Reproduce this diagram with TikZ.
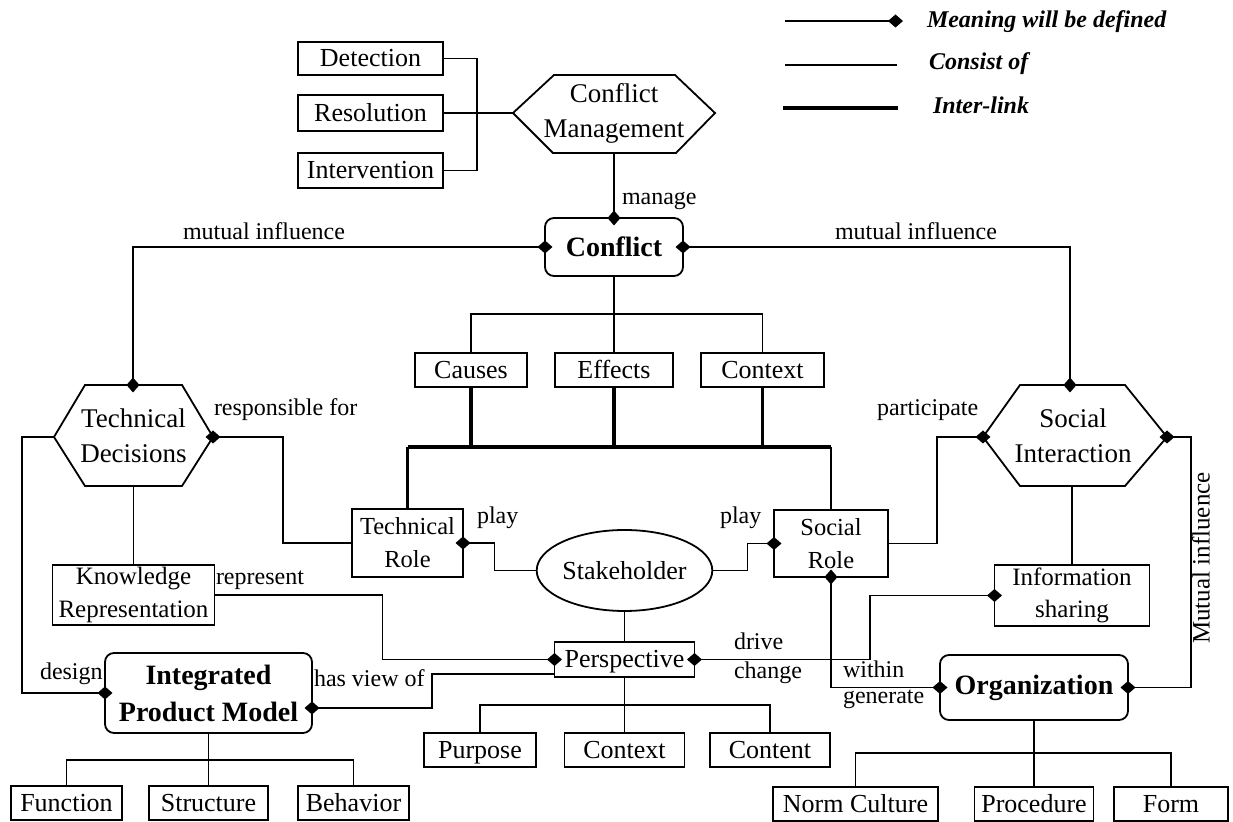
\documentclass[tikz,border=0pt]{standalone}
\usepackage{fontspec}
\setmainfont{Liberation Serif}
\usetikzlibrary{arrows.meta,shapes.geometric}

\tikzset{
  every node/.style={inner sep=0pt, outer sep=0pt},
  box/.style={draw, line width=0.9pt, rectangle, align=center,
              font=\fontsize{13}{16.5}\selectfont},
  one/.style={box, text height=8.4pt, text depth=0pt},
  sbox/.style={box, font=\fontsize{12.25}{16.5}\selectfont},
  rbox/.style={draw, line width=0.9pt, rounded corners=4.5pt, align=center,
               font=\bfseries\fontsize{14}{18.5}\selectfont},
  hexline/.style={draw, line width=0.9pt, line join=miter},
  hextext/.style={align=center, font=\fontsize{13.5}{17.5}\selectfont},
  lbl/.style={anchor=base west, font=\fontsize{12}{14}\selectfont},
  legtext/.style={anchor=base west, font=\bfseries\itshape\fontsize{12}{14}\selectfont},
  link/.style={line width=0.8pt},
  mid/.style={line width=1.1pt},
  inter/.style={line width=1.9pt},
  dend/.style={-{Diamond[length=7.5pt,width=6.5pt]}, shorten >=-3.75pt},
  dstart/.style={{Diamond[length=7.5pt,width=6.5pt]}-, shorten <=-3.75pt},
  dboth/.style={{Diamond[length=7.5pt,width=6.5pt]}-{Diamond[length=7.5pt,width=6.5pt]},
                shorten <=-3.75pt, shorten >=-3.75pt},
}

\begin{document}
\begin{tikzpicture}[x=0.5pt, y=-0.5pt]
  \fill[white] (0,0) rectangle (1233,822);

  % ---------- legend ----------
  \coordinate (lg1a) at (785,21);  \coordinate (lg1b) at (903,21);
  \coordinate (lg2a) at (785,65);  \coordinate (lg2b) at (897,65);
  \coordinate (lg3a) at (783,108); \coordinate (lg3b) at (898,108);
  \draw[link, -{Diamond[length=7.5pt,width=6.5pt]}] (lg1a) -- (lg1b);
  \draw[link] (lg2a) -- (lg2b);
  \draw[inter] (lg3a) -- (lg3b);
  \node[legtext] (lgt1) at (927,28) {Meaning will be defined};
  \node[legtext] (lgt2) at (929,70) {Consist of};
  \node[legtext] (lgt3) at (933,114) {Inter-link};

  % ---------- conflict management ----------
  \node[hextext] (cm) at (614,113) {Conflict\\Management};
  \coordinate (cm-l) at (513,113);
  \coordinate (cm-r) at (715,113);
  \coordinate (cm-b) at (614,153);
  \draw[hexline] (cm-l) -- (554,75) -- (675,75) -- (cm-r) -- (676,153) -- (553,153) -- cycle;

  \node[one, minimum width=72.5pt, minimum height=16.5pt] (det) at (370.5,58.5) {Detection};
  \node[one, minimum width=72.5pt, minimum height=18pt]   (res) at (370.5,113) {Resolution};
  \node[one, minimum width=72.5pt, minimum height=17.5pt] (ivn) at (370.5,170.5) {Intervention};
  \coordinate (cmj) at (477,113);
  \draw[link] (det.east) -| (cmj);
  \draw[link] (ivn.east) -| (cmj);
  \draw[link] (res.east) -- (cm-l);

  % ---------- conflict ----------
  \node[rbox, minimum width=69pt, minimum height=29pt] (conflict) at (614,247) {Conflict};
  \draw[link, dend] (cm-b) -- (conflict.north);
  \node[lbl] (lmanage) at (622,205) {manage};

  \node[one, minimum width=56pt, minimum height=17pt]   (causes)  at (471,370) {Causes};
  \node[one, minimum width=59pt, minimum height=17pt]   (effects) at (614,370) {Effects};
  \node[one, minimum width=61.5pt, minimum height=17pt] (ctx)     at (762.5,370) {Context};
  \coordinate (cj) at (614,314);
  \draw[link] (conflict.south) -- (effects.north);
  \draw[link] (causes.north) |- (cj) -| (ctx.north);

  % ---------- technical decisions ----------
  \node[hextext] (td) at (133.5,436) {Technical\\Decisions};
  \coordinate (td-l) at (54,437);
  \coordinate (td-r) at (213,437);
  \coordinate (td-t) at (133,385);
  \coordinate (td-b) at (133.5,486);
  \draw[hexline] (td-l) -- (85,385) -- (182,385) -- (td-r) -- (182,486) -- (85,486) -- cycle;

  % ---------- social interaction ----------
  \node[hextext] (si) at (1073,436) {Social\\Interaction};
  \coordinate (si-l) at (983,437);
  \coordinate (si-r) at (1167,437);
  \coordinate (si-t) at (1070,385);
  \coordinate (si-b) at (1072,486);
  \draw[hexline] (si-l) -- (1020,385) -- (1125,385) -- (si-r) -- (1125,486) -- (1020,486) -- cycle;

  \draw[link, dboth] (conflict.west) -| (td-t);
  \draw[link, dboth] (conflict.east) -| (si-t);
  \node[lbl] (lmil) at (183,240) {mutual influence};
  \node[lbl] (lmir) at (835,240) {mutual influence};

  % ---------- roles and stakeholder ----------
  \node[sbox, minimum width=55.5pt, minimum height=34pt] (trole) at (407.5,543) {Technical\\Role};
  \node[sbox, minimum width=57pt, minimum height=33.5pt] (srole) at (831,543.5) {Social\\Role};
  \node[draw, ellipse, line width=0.9pt, minimum width=80pt, minimum height=40.5pt,
        font=\fontsize{13}{16.5}\selectfont] (stake) at (624.5,570.5) {Stakeholder};

  \coordinate (ij) at (614,447);
  \draw[inter] (causes.south) -- (causes.south |- ij);
  \draw[inter] (effects.south) -- (effects.south |- ij);
  \draw[inter] (ctx.south) -- (ctx.south |- ij);
  \draw[inter] (trole.north |- ij) -- (srole.north |- ij);
  \draw[mid] (trole.north) -- (trole.north |- ij);
  \draw[mid] (srole.north) -- (srole.north |- ij);

  \draw[link, dend] (stake.west) -- ++(-42,0) |- (trole.east);
  \draw[link, dend] (stake.east) -- ++(35,0) |- (srole.west);
  \node[lbl] (lplayl) at (477,524) {play};
  \node[lbl] (lplayr) at (720,524) {play};

  \draw[link, dstart] (td-r) -- ++(70,0) |- (trole.west);
  \node[lbl] (lresp) at (214,416) {responsible for};
  \draw[link, dstart] (si-l) -- ++(-46,0) |- (srole.east);
  \node[lbl] (lpart) at (877,416) {participate};

  % ---------- knowledge and information ----------
  \node[box, minimum width=81pt, minimum height=30pt,
        font=\fontsize{12.5}{16.5}\selectfont] (kr) at (133.5,595) {Knowledge\\Representation};
  \node[box, minimum width=77.5pt, minimum height=30.5pt,
        font=\fontsize{12.5}{16}\selectfont] (info) at (1072,595.5) {Information\\sharing};
  \draw[link] (td-b) -- (kr.north);
  \draw[link] (si-b) -- (info.north);

  % ---------- perspective ----------
  \node[one, minimum width=70pt, minimum height=17.5pt] (persp) at (624.5,659.5) {Perspective};
  \draw[link] (stake.south) -- (persp.north);
  \draw[link, dend] (kr.east) -- ++(168,0) |- (persp.west);
  \node[lbl] (lrep) at (216,585) {represent};

  \node[one, minimum width=56pt, minimum height=17pt] (purpose) at (480,750) {Purpose};
  \node[one, minimum width=60pt, minimum height=17pt] (pctx)    at (624.5,750) {Context};
  \node[one, minimum width=60pt, minimum height=17pt] (content) at (770,750) {Content};
  \coordinate (pj) at (624.5,705);
  \draw[link] (persp.south) -- (pctx.north);
  \draw[link] (purpose.north) |- (pj) -| (content.north);

  % ---------- integrated product model ----------
  \node[rbox, minimum width=103.5pt, minimum height=40pt] (ipm) at (208.5,693) {Integrated\\Product Model};
  \draw[link, dend] (td-l) -- ++(-32,0) |- (ipm.west);
  \node[lbl] (ldesign) at (40,680) {design};
  \draw[link, dstart] ([yshift=-7.5pt]ipm.east) -- ++(120,0) |- ([yshift=-7.25pt]persp.west);
  \node[lbl] (lview) at (314,687) {has view of};

  \node[one, minimum width=55.5pt, minimum height=17pt] (func)   at (66.5,803) {Function};
  \node[one, minimum width=59.5pt, minimum height=17pt] (struct) at (208.5,803) {Structure};
  \node[one, minimum width=55.5pt, minimum height=17pt] (behav)  at (353.5,803) {Behavior};
  \coordinate (ipj) at (208.5,760);
  \draw[link] (ipm.south) -- (struct.north);
  \draw[link] (func.north) |- (ipj) -| (behav.north);

  % ---------- organization ----------
  \node[rbox, minimum width=94pt, minimum height=32.5pt] (org) at (1034,687.5) {Organization};
  \draw[link, dboth] (persp.east) -- ++(175.5,0) |- (info.west);
  \node[lbl] (ldrive) at (734,650) {drive};
  \node[lbl] (lchange) at (734,679) {change};
  \draw[link, dboth] (srole.south) |- (org.west);
  \node[lbl] (lwithin) at (843,678) {within};
  \node[lbl] (lgen) at (843,704) {generate};
  \draw[link, dboth] (si-r) -- ++(24,0) |- (org.east);
  \node[rotate=90, font=\fontsize{12.5}{14}\selectfont] (lmiv) at (1201,558) {Mutual influence};

  \node[one, minimum width=82.5pt, minimum height=17pt] (norm) at (855.5,804) {Norm Culture};
  \node[one, minimum width=59.5pt, minimum height=17pt] (proc) at (1034,804) {Procedure};
  \node[one, minimum width=57pt, minimum height=17pt]   (form) at (1171,804) {Form};
  \coordinate (oj) at (1034,753);
  \draw[link] (org.south) -- (proc.north);
  \draw[link] (norm.north) |- (oj) -| (form.north);
\end{tikzpicture}
\end{document}
